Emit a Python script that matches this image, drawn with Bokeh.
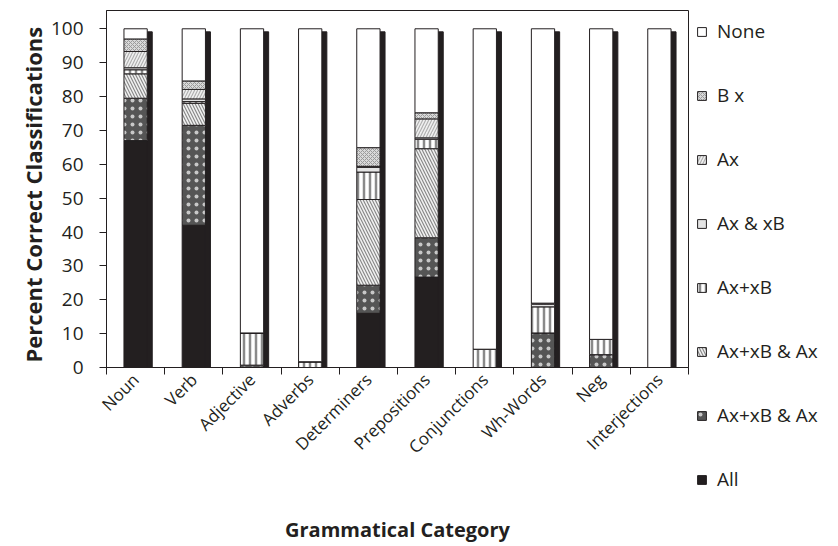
import math
from bokeh.plotting import figure
from bokeh.models import ColumnDataSource, Range1d, FixedTicker, Legend, LegendItem
from bokeh.embed import file_html
from bokeh.resources import INLINE

categories = ["Noun", "Verb", "Adjective", "Adverbs", "Determiners",
              "Prepositions", "Conjunctions", "Wh-Words", "Neg", "Interjections"]

# series, bottom to top
s_all = [67, 42, 0, 0, 16, 26.7, 0, 0, 0, 0]
s_axxb_ax_dark = [12.5, 29.5, 0.7, 0, 8.3, 11.6, 0, 10.2, 3.8, 0]
s_axxb_ax_hatch = [7.2, 6.5, 0, 0, 25.3, 26.3, 0, 0, 0, 0]
s_axxb = [1.2, 0.5, 9.5, 1.7, 8.1, 2.8, 5.4, 7.7, 4.5, 0]
s_ax_and_xb = [0.6, 0.8, 0, 0, 1.4, 0.4, 0, 0.8, 0, 0]
s_ax = [4.8, 2.8, 0, 0, 0.3, 5.6, 0, 0.3, 0, 0]
s_bx = [3.7, 2.5, 0, 0, 5.5, 1.8, 0, 0, 0, 0]
s_none = [3, 15.4, 89.8, 98.3, 35.1, 24.8, 94.6, 81, 91.7, 100]

series_names = ["All", "Ax+xB & Ax", "Ax+xB & Ax ", "Ax+xB", "Ax & xB", "Ax", "B x", "None"]
series_keys = ["all", "dark", "hatch", "axxb", "axandxb", "ax", "bx", "none"]
totals = [100] * len(categories)

FONT = "Open Sans"
INK = "#231f20"

fills = [INK, "#555555", "#f2f2f2", "#ffffff", "#e4e4e4", "#f0f0f0", "#d9d9d9", "#ffffff"]
hatches = [" ", ".", "\\", "|", " ", "/", "x", " "]
hatch_colors = [INK, "#c8c8c8", "#8a8a8a", "#8a8a8a", INK, "#b0b0b0", "#9a9a9a", INK]
hatch_scales = [8, 8, 6, 6, 8, 6, 4, 8]
hatch_weights = [1, 2, 1.2, 2.5, 1, 1.2, 1, 1]

xs = [i + 0.5 for i in range(len(categories))]
src = ColumnDataSource(dict(
    x=xs, xs_shadow=[x + 0.086 for x in xs], total=[t - 0.9 for t in totals],
    all=s_all, dark=s_axxb_ax_dark, hatch=s_axxb_ax_hatch, axxb=s_axxb,
    axandxb=s_ax_and_xb, ax=s_ax, bx=s_bx, none=s_none))

p = figure(frame_width=582, frame_height=357, output_backend="svg", toolbar_location=None,
           x_range=Range1d(0, 10), y_range=Range1d(0, 105.4),
           min_border_left=106, min_border_top=10, min_border_right=0,
           min_border_bottom=172)
p.background_fill_color = "white"
p.outline_line_color = INK
p.outline_line_width = 1
p.xgrid.visible = False
p.ygrid.visible = False

# shadow behind each bar
p.vbar(x="xs_shadow", top="total", bottom=0, width=0.40, source=src,
       fill_color=INK, line_color=INK)

renderers = p.vbar_stack(series_keys, x="x", width=0.40, source=src,
                         fill_color=fills, hatch_pattern=hatches, hatch_color=hatch_colors,
                         hatch_scale=hatch_scales, hatch_weight=hatch_weights,
                         line_color=INK, line_width=1)

items = [LegendItem(label=series_names[i], renderers=[renderers[i]])
         for i in reversed(range(len(series_keys)))]
legend = Legend(items=items, location="top_left")
legend.margin = 8
legend.padding = 9
legend.spacing = 38
legend.glyph_width = 11
legend.glyph_height = 11
legend.label_standoff = 10
legend.label_text_font = FONT
legend.label_text_font_size = "19px"
legend.label_text_color = INK
legend.border_line_color = None
legend.background_fill_alpha = 0
p.add_layout(legend, "right")

# x axis
xa = p.xaxis[0]
xa.ticker = FixedTicker(ticks=xs, minor_ticks=list(range(len(categories) + 1)))
xa.major_label_overrides = {x: c for x, c in zip(xs, categories)}
xa.major_tick_line_color = None
xa.minor_tick_line_color = INK
xa.minor_tick_out = 7
xa.minor_tick_in = 0
xa.major_label_orientation = math.pi / 4
xa.major_label_standoff = 2
xa.major_label_text_font = FONT
xa.major_label_text_font_size = "17px"
xa.major_label_text_color = INK
xa.axis_line_color = INK
xa.axis_label = "Grammatical Category"
xa.axis_label_text_font = FONT
xa.axis_label_text_font_style = "bold"
xa.axis_label_text_font_size = "20px"
xa.axis_label_text_color = INK
xa.axis_label_standoff = 47

# y axis
ya = p.yaxis[0]
ya.ticker = FixedTicker(ticks=list(range(0, 101, 10)))
ya.major_tick_out = 7
ya.major_tick_in = 0
ya.minor_tick_line_color = None
ya.major_tick_line_color = INK
ya.major_label_standoff = 16
ya.major_label_text_font = FONT
ya.major_label_text_font_size = "19px"
ya.major_label_text_color = INK
ya.axis_line_color = INK
ya.axis_label = "Percent  Correct  Classifications"
ya.axis_label_text_font = FONT
ya.axis_label_text_font_style = "bold"
ya.axis_label_text_font_size = "22px"
ya.axis_label_text_color = INK
ya.axis_label_standoff = 0

open("out.html", "w").write(file_html(p, INLINE))
